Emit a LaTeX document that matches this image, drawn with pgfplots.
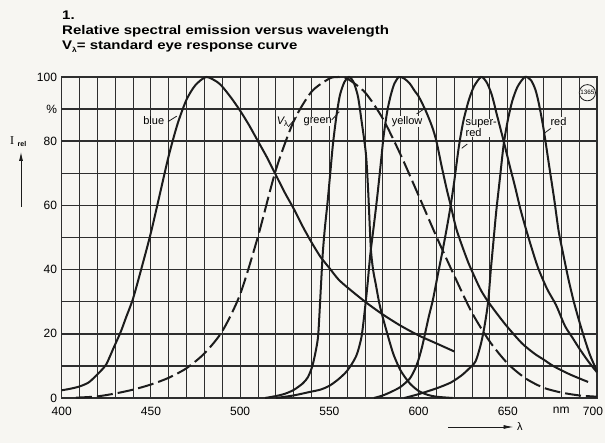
\documentclass[border=0pt]{standalone}
\usepackage{pgfplots}
\pgfplotsset{compat=1.18}
\usetikzlibrary{arrows.meta}
\usepackage{fontspec}
\setmainfont{Liberation Sans}
\newfontfamily\titlefont[FakeStretch=1.2]{Liberation Sans}
\newfontfamily\seriffont{Liberation Serif}
\definecolor{ink}{HTML}{1C1C1C}
\definecolor{gridc}{HTML}{2E2E2E}
\definecolor{paper}{HTML}{F7F6F2}
\tikzset{curve/.style={ink, line width=2pt, smooth, tension=0.45, mark=none, solid}}
\begin{document}
\begin{tikzpicture}[x=1pt,y=1pt]
\fill[paper] (0,0) rectangle (605,443);
\useasboundingbox (0,0) rectangle (605,443);
\begin{axis}[
  at={(61.7pt,45pt)}, anchor=south west,
  scale only axis, width=535.3pt, height=321pt,
  xmin=400, xmax=700, ymin=0, ymax=100,
  xtick={400,450,500,550,600,650,680,700},
  xticklabels={400,450,500,550,600,650,nm,\hspace*{-8pt}700},
  minor xtick={410,420,430,440,460,470,480,490,510,520,530,540,560,570,580,590,610,620,630,640,660,670,690},
  ytick={0,20,40,60,80,90,100},
  yticklabels={0,20,40,60,80,\%,100},
  minor ytick={10,30,50,70},
  grid=both,
  major tick length=0pt, minor tick length=0pt,
  x grid style={gridc, line width=0.9pt},
  y grid style={gridc, line width=1.5pt},
  minor x grid style={gridc, line width=0.9pt},
  minor y grid style={gridc, line width=1.5pt},
  axis line style={gridc, line width=1.3pt},
  xticklabel style={font=\fontsize{12}{12}\selectfont, inner sep=0pt, yshift=-8.5pt},
  yticklabel style={font=\fontsize{12}{12}\selectfont, inner sep=0pt, xshift=-4.5pt},
  clip=false,
]
% blue
\addplot[curve] coordinates {(400,2.4)(405,2.9)(410,3.6)(415,4.8)(419,6.8)(422,8.5)(425,10.5)(429,15.5)(433,20.5)(436,25)(440,31)(445,41)(450,51.5)(455,63.5)(460,75.5)(465,85.5)(470,93)(475,97.5)(481,100)(487,98.5)(490,97)(495,93.5)(500,89.5)(505,85)(510,80)(515,75)(520,69.5)(525,64)(530,59)(535,53.5)(540,48.5)(545,44)(550,40.5)(555,37)(560,34.5)(570,30)(580,26)(590,22.5)(600,19.5)(610,17)(620,14.5)};
% V lambda (standard eye response)
\addplot[curve, dash pattern=on 16pt off 5pt] coordinates {(408,0.1)(410,0.15)(420,0.5)(430,1.4)(440,2.6)(450,4.2)(460,6.3)(470,9.3)(480,13.9)(490,20.8)(500,32.3)(510,50.3)(520,71)(530,86.2)(540,95.4)(550,99.5)(555,100)(560,99.5)(570,95.2)(580,87)(590,75.7)(600,63.1)(610,50.3)(620,38.1)(630,26.5)(640,17.5)(650,10.7)(660,6.1)(670,3.2)(680,1.7)(690,0.8)(700,0.4)};
% green
\addplot[curve] coordinates {(514,0)(520,0.6)(525,1.3)(530,2.5)(535,4.5)(538,6.5)(540.5,10)(542.5,15)(543.8,20)(545.3,35)(546.3,45)(547.5,53)(549,61)(550.5,70)(552,79)(554,88)(556,94.5)(558.5,98.5)(561,100)(563.5,98.5)(566,94)(568,86.5)(570.5,76)(571.8,64)(573.2,47)(574.5,40)(576,35.5)(578,29.5)(580,25)(583,19)(586,13.5)(590,8.5)(595,4.6)(600,2.2)(605,1)(610,0.4)(619,0)};
% yellow
\addplot[curve] coordinates {(520,0)(530,0.8)(540,2)(545,2.6)(550,3.8)(555,5.8)(560,8.5)(565,13)(568,19)(570,28)(571.5,36)(573,45)(575,54)(577,63.5)(579,74)(580.5,82)(582.5,89.5)(584.5,94.5)(586.5,98)(589,100)(592,99.5)(595,98)(598,95.5)(600,94)(604,89.5)(607.6,84.5)(610,80)(613,72)(616,64.5)(618,60)(621,53)(624,48)(628,42)(632,37)(635,33.5)(639,30)(645,25.5)(650,22)(658,17)(665,13.8)(670,12)(676,9.8)(685,7.3)(695,5)};
% super-red
\addplot[curve] coordinates {(575,0)(580,0.8)(585,2)(590,3.5)(595,6)(598,9)(600,12)(602,16)(604,21)(606,26)(608,30.5)(611,39)(613.5,46)(616,53.5)(618,60)(620,67.5)(622.5,78)(625,86)(628,92.5)(631,97)(635,100)(638,98.5)(641,94.5)(644,88)(647.7,80)(651,72.5)(654,66)(657,59)(660,53)(663.5,46.5)(667,40.5)(672,34)(677,29)(682,22.5)(686,19)(690,15.5)(695,11.5)(700,8)};
% red
\addplot[curve] coordinates {(592,0)(600,1.2)(610,3)(618,4.8)(624,7)(628,9)(632,11.5)(635,17)(637,22.5)(639,30)(640.5,40)(642,49)(643.5,58)(645.5,68)(647.7,79)(650,86.5)(652.5,92.5)(655.5,97)(659.6,100)(663,99)(665.5,96)(667.5,91.5)(670,84)(673,73)(676,62)(678.5,52)(681,45)(684,37)(687,30)(690,24)(693,18.5)(696,13.5)(700,8.3)};
% labels and leaders
\begin{scope}[every node/.style={font=\fontsize{11}{11}\selectfont, inner sep=0.5pt, fill=paper}]
\node at (451.6,86.4) {blue};
\node at (523.7,86.1) {\itshape V\raisebox{-0.45ex}{\fontsize{8}{8}\selectfont\upshape λ}};
\node at (543.5,86.1) {green};
\node at (593.6,86.1) {yellow};
\node[anchor=west, align=left] at (626,84.2) {super-\\red};
\node at (678.4,86.1) {red};
\end{scope}
\begin{scope}[ink, line width=0.8pt]
\draw (459.6,86.1) -- (464.5,87.8);
\draw (527,84.5) -- (531.7,87.6);
\draw (551.3,86.6) -- (555.6,89.2);
\draw (598.9,88.5) -- (602.7,89.9);
\draw (627.3,79.1) -- (624.2,77.8);
\draw (674.1,84) -- (670.5,82.5);
\end{scope}
\node[draw=ink, circle, line width=0.8pt, inner sep=0.6pt, fill=paper, font=\fontsize{6.3}{6.3}\selectfont] at (694.6,95.1) {1365};
\end{axis}
% titles
\node[anchor=base west, inner sep=0pt, font=\titlefont\bfseries\fontsize{12.5}{12.5}\selectfont] at (62,423.5) {1.};
\node[anchor=base west, inner sep=0pt, font=\titlefont\bfseries\fontsize{12.5}{12.5}\selectfont] at (62,408.5) {Relative spectral emission versus wavelength};
\node[anchor=base west, inner sep=0pt, font=\titlefont\bfseries\fontsize{12.5}{12.5}\selectfont] at (62,393) {V\raisebox{-0.4ex}{\fontsize{7}{7}\selectfont λ}= standard eye response curve};
% y axis label
\node[anchor=base west, inner sep=0pt, font=\seriffont\fontsize{12}{12}\selectfont] at (10,298) {I};
\node[anchor=base west, inner sep=0pt, font=\bfseries\fontsize{7}{7}\selectfont] at (17.5,296) {rel};
\draw[ink, line width=0.8pt, -{Latex[length=9pt,width=4pt]}] (21,236) -- (21,291);
% x axis arrow
\draw[ink, line width=0.8pt, -{Latex[length=10pt,width=4pt]}] (448,16) -- (513.5,16);
\node[anchor=west, inner sep=0pt, font=\fontsize{11}{11}\selectfont] at (517,16) {λ};
\end{tikzpicture}
\end{document}
